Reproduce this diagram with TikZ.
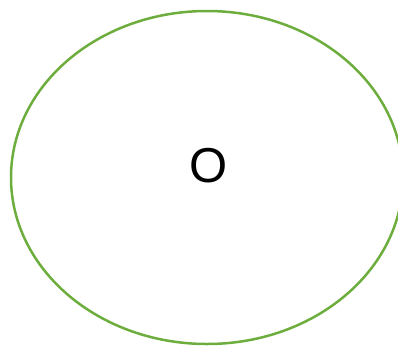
\documentclass[tikz,border=0pt]{standalone}
\usepackage{fontspec}
\setmainfont{Liberation Sans}
\usetikzlibrary{shapes.geometric, positioning}
\definecolor{mGreen}{HTML}{6DAD3E}

\begin{document}
\begin{tikzpicture}[
    x=1pt, y=-1pt,
    oval/.style={draw=mGreen, line width=2.5pt, ellipse, inner sep=0pt,
                 minimum width=392pt, minimum height=333pt},
    lbl/.style={font=\fontsize{49}{49}\selectfont, inner sep=0pt},
  ]
    \useasboundingbox (0,0) rectangle (398,346);
    % outline
    \node[oval] (shape) at (207,177.5) {};
    % letter
    \node[lbl] (letter) at (209,165.5) {O};
  \end{tikzpicture}
\end{document}
